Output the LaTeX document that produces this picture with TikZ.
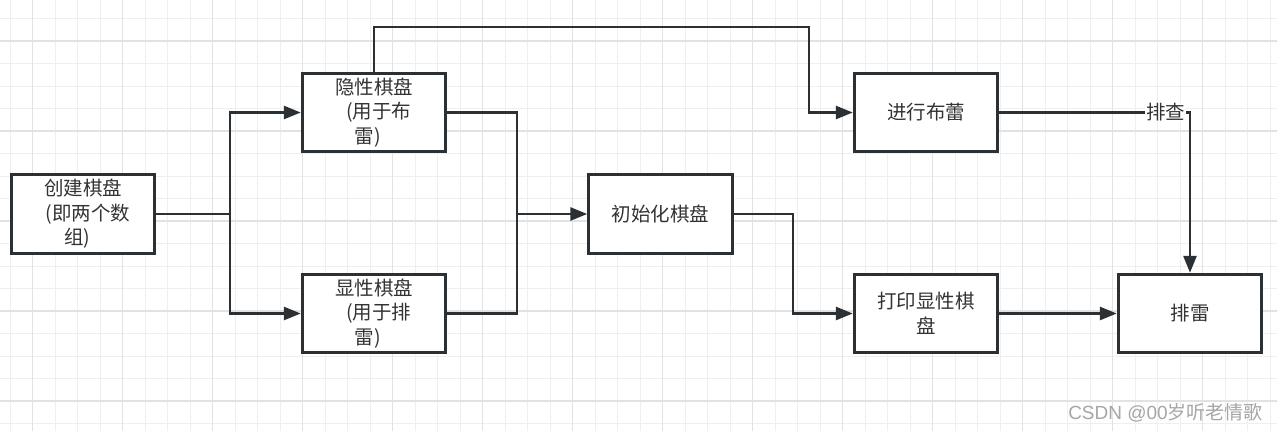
\documentclass[tikz,border=0pt]{standalone}
\usepackage{fontspec}
\setmainfont{Noto Sans CJK SC}
\newfontfamily\latinwm{Liberation Sans}
\usetikzlibrary{arrows.meta}
\definecolor{ink}{HTML}{333333}
\definecolor{edgec}{HTML}{2B3035}
\definecolor{gridminor}{HTML}{EFEFEF}
\definecolor{gridmajor}{HTML}{E2E2E2}
\definecolor{wmgray}{HTML}{A6A6A6}
\begin{document}
\begin{tikzpicture}[x=1pt,y=-1pt,
  box/.style={draw=edgec, line width=2.9pt, fill=white, minimum width=143.5pt,
    minimum height=78.5pt, inner sep=0pt, align=center, text=ink,
    font=\fontsize{19.5}{24.5}\selectfont},
  conn/.style={draw=edgec, line width=2.7pt},
  arr/.style={conn, -{Triangle[length=17pt,width=13pt]}},
  gminor/.style={draw=gridminor, line width=1pt},
  gmajor/.style={draw=gridmajor, line width=1.2pt},
  lbl/.style={fill=white, text=ink, inner sep=1pt, font=\fontsize{19.5}{24.5}\selectfont}]
\useasboundingbox (0,0) rectangle (1277,431);
\fill[white] (0,0) rectangle (1277,431);
% grid
\foreach \k in {0,...,56} { \draw[gminor] (10+22.5*\k,0) -- (10+22.5*\k,431); }
\foreach \k in {0,...,18} { \draw[gminor] (0,18.5+22.5*\k) -- (1277,18.5+22.5*\k); }
\foreach \k in {0,...,13} { \draw[gmajor] (32.5+90*\k,0) -- (32.5+90*\k,431); }
\foreach \k in {0,...,4} { \draw[gmajor] (0,41+90*\k) -- (1277,41+90*\k); }
% boxes
\node[box] (create) at (83,214) {创建棋盘\\\hspace*{0.5em}(即两个数\\组)\hspace*{0.6em}};
\node[box] (hidden) at (374,112.5) {隐性棋盘\\\hspace*{0.5em}(用于布\\雷)\hspace*{0.65em}};
\node[box] (shown) at (374,313.5) {显性棋盘\\\hspace*{0.5em}(用于排\\雷)\hspace*{0.65em}};
\node[box] (init) at (660.5,214) {初始化棋盘};
\node[box] (lay) at (926,112.5) {进行布蕾};
\node[box] (print) at (926,313.5) {打印显性棋\\盘};
\node[box] (sweep) at (1190,313.5) {排雷};
% routing points
\coordinate (split) at (230,214);
\coordinate (merge) at (517,214);
\coordinate (topl) at (374,27);
\coordinate (topr) at (809,27);
\coordinate (bend) at (793,214);
% connectors
\draw[conn] (create.east) -- (split);
\draw[arr] (split) |- (hidden.west);
\draw[arr] (split) |- (shown.west);
\draw[conn] (hidden.east) -| (merge);
\draw[conn] (shown.east) -| (merge);
\draw[arr] (merge) -- (init.west);
\draw[arr] (hidden.north) -- (topl) -- (topr) |- (lay.west);
\draw[arr] (init.east) -- (bend) |- (print.west);
\draw[arr] (print.east) -- (sweep.west);
\draw[arr] (lay.east) -| (sweep.north) node[lbl, pos=0.437] (check) {排查};
% watermark
\node[anchor=east, text=wmgray, inner sep=0pt, font=\fontsize{19}{22}\selectfont] (wm) at (1263,413) {{\latinwm CSDN @00}岁听老情歌};
\end{tikzpicture}
\end{document}
